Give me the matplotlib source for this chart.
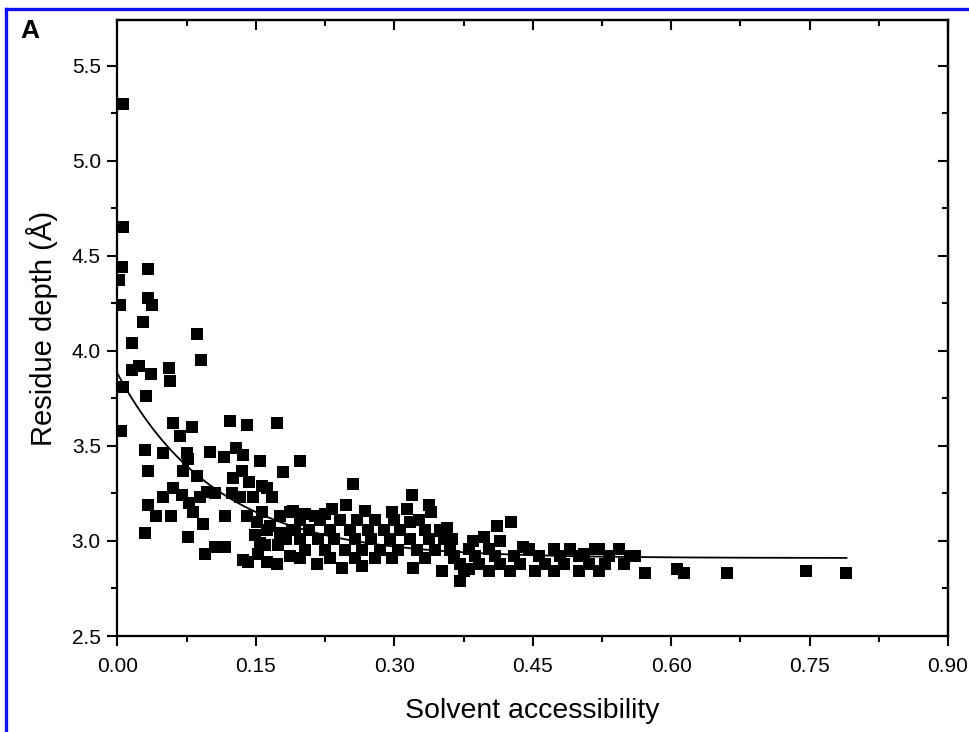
import matplotlib
matplotlib.use("Agg")
import numpy as np
import matplotlib.pyplot as plt
from matplotlib.lines import Line2D
from matplotlib.ticker import MultipleLocator

plt.rcParams["font.family"] = ["Liberation Sans", "DejaVu Sans"]

# solvent accessibility (x) and residue depth in angstrom (y)
# sparse points on the left
acc_left = [0.006, 0.006, 0.005, 0.033, 0.002, 0.033, 0.037, 0.003, 0.028, 0.086,
            0.016, 0.090, 0.016, 0.023, 0.036, 0.056, 0.057, 0.006, 0.031, 0.004,
            0.060, 0.081, 0.122, 0.140, 0.173, 0.068, 0.030, 0.049, 0.075, 0.100,
            0.115, 0.128, 0.136, 0.154, 0.198, 0.033, 0.071, 0.076, 0.086, 0.125,
            0.135, 0.179, 0.143, 0.157, 0.049, 0.060, 0.070, 0.089, 0.097, 0.106,
            0.124, 0.133, 0.147, 0.162, 0.167, 0.033, 0.077, 0.082, 0.042, 0.058,
            0.093, 0.117, 0.140, 0.151, 0.157, 0.162, 0.176, 0.176, 0.187, 0.189,
            0.030, 0.076, 0.154, 0.174, 0.183, 0.095, 0.106, 0.117, 0.136, 0.141,
            0.162, 0.173, 0.187]
depth_left = [5.30, 4.65, 4.44, 4.43, 4.37, 4.28, 4.24, 4.24, 4.15, 4.09,
              4.04, 3.95, 3.90, 3.92, 3.88, 3.91, 3.84, 3.81, 3.76, 3.58,
              3.62, 3.60, 3.63, 3.61, 3.62, 3.55, 3.48, 3.46, 3.46, 3.47,
              3.44, 3.49, 3.45, 3.42, 3.42, 3.37, 3.37, 3.43, 3.34, 3.33,
              3.37, 3.36, 3.31, 3.29, 3.23, 3.28, 3.24, 3.23, 3.26, 3.25,
              3.25, 3.23, 3.23, 3.28, 3.23, 3.19, 3.20, 3.15, 3.13, 3.13,
              3.09, 3.13, 3.13, 3.10, 3.15, 3.06, 3.13, 3.04, 3.15, 3.06,
              3.04, 3.02, 2.99, 2.98, 3.01, 2.93, 2.97, 2.97, 2.90, 2.89,
              2.89, 2.88, 2.92]

# middle, 0.15 - 0.36
acc_mid = [0.255, 0.319, 0.338, 0.340, 0.297, 0.314, 0.317, 0.357, 0.351, 0.248,
           0.232, 0.268, 0.190, 0.214, 0.216, 0.243, 0.265, 0.320, 0.352, 0.371,
           0.381,
           0.198, 0.219, 0.241, 0.260, 0.279, 0.300, 0.327,
           0.192, 0.208, 0.230, 0.252, 0.271, 0.289, 0.306, 0.333, 0.349,
           0.198, 0.217, 0.235, 0.257, 0.275, 0.295, 0.317, 0.338, 0.354,
           0.203, 0.225, 0.246, 0.265, 0.284, 0.304, 0.325, 0.344, 0.360,
           0.198, 0.230, 0.257, 0.279, 0.297, 0.333, 0.365,
           0.203, 0.225, 0.165, 0.149, 0.160, 0.152]
depth_mid = [3.30, 3.24, 3.19, 3.15, 3.15, 3.17, 3.10, 3.07, 3.05, 3.19,
             3.17, 3.16, 3.16, 3.13, 2.88, 2.86, 2.87, 2.86, 2.84, 2.79,
             2.85,
             3.11, 3.11, 3.11, 3.11, 3.11, 3.11, 3.11,
             3.06, 3.06, 3.06, 3.06, 3.06, 3.06, 3.06, 3.06, 3.06,
             3.01, 3.01, 3.01, 3.01, 3.01, 3.01, 3.01, 3.01, 3.01,
             2.95, 2.95, 2.95, 2.95, 2.95, 2.95, 2.95, 2.95, 2.95,
             2.91, 2.91, 2.91, 2.91, 2.91, 2.91, 2.91,
             3.14, 3.14, 3.08, 3.03, 2.98, 2.93]

# right, beyond 0.36
acc_right = [0.411, 0.426, 0.397, 0.415, 0.439, 0.506, 0.517, 0.561, 0.572, 0.606,
             0.614, 0.661, 0.746, 0.790, 0.362, 0.385,
             0.381, 0.403, 0.446, 0.473, 0.490, 0.522, 0.544,
             0.365, 0.387, 0.409, 0.430, 0.457, 0.479, 0.500, 0.533, 0.555,
             0.371, 0.392, 0.414, 0.436, 0.463, 0.484, 0.511, 0.528, 0.549,
             0.376, 0.403, 0.425, 0.452, 0.473, 0.500, 0.522]
depth_right = [3.08, 3.10, 3.02, 3.00, 2.97, 2.93, 2.96, 2.92, 2.83, 2.85,
               2.83, 2.83, 2.84, 2.83, 3.01, 3.00,
               2.96, 2.96, 2.96, 2.96, 2.96, 2.96, 2.96,
               2.92, 2.92, 2.92, 2.92, 2.92, 2.92, 2.92, 2.92, 2.92,
               2.88, 2.88, 2.88, 2.88, 2.88, 2.88, 2.88, 2.88, 2.88,
               2.84, 2.84, 2.84, 2.84, 2.84, 2.84, 2.84]

# exponential decay fit shown in the figure: y = Y0 + A1*exp(-x/T1)
Y0, A1, T1 = 2.91, 0.97, 0.108

x = np.array(acc_left + acc_mid + acc_right)
y = np.array(depth_left + depth_mid + depth_right)
xf = np.linspace(0, x.max(), 300)
yf = Y0 + A1 * np.exp(-xf / T1)

fig = plt.figure(figsize=(9.7, 7.32), dpi=100)
ax = fig.add_axes([117.5 / 970, 1 - 636 / 732, (948 - 117.5) / 970, (636 - 20) / 732])

ax.plot(x, y, "s", color="black", ms=9.2, mec="black", mew=0)
ax.plot(xf, yf, color="black", lw=1.3)

ax.set_xlim(0, 0.9)
ax.set_ylim(2.5, 5.74)
ax.xaxis.set_major_locator(MultipleLocator(0.15))
ax.xaxis.set_minor_locator(MultipleLocator(0.075))
ax.yaxis.set_major_locator(MultipleLocator(0.5))
ax.yaxis.set_minor_locator(MultipleLocator(0.25))
ax.xaxis.set_major_formatter(lambda v, p: f"{v:.2f}")
ax.yaxis.set_major_formatter(lambda v, p: f"{v:.1f}")
ax.tick_params(which="major", direction="out", length=7, width=1.5, labelsize=15)
ax.tick_params(axis="x", which="major", pad=8)
ax.tick_params(axis="y", which="major", pad=5)
ax.tick_params(which="minor", direction="out", length=4.5, width=1.5)
for s in ax.spines.values():
    s.set_linewidth(1.6)

# inward ticks on top and right
top = ax.secondary_xaxis("top")
right = ax.secondary_yaxis("right")
for sec in (top, right):
    sec.tick_params(which="major", direction="in", length=7, width=1.5)
    sec.tick_params(which="minor", direction="in", length=4.5, width=1.5)
    sec.spines[:].set_linewidth(1.6)
top.xaxis.set_major_locator(MultipleLocator(0.15))
top.xaxis.set_minor_locator(MultipleLocator(0.075))
top.set_xticklabels([])
right.yaxis.set_major_locator(MultipleLocator(0.5))
right.yaxis.set_minor_locator(MultipleLocator(0.25))
right.set_yticklabels([])

ax.set_xlabel("Solvent accessibility", fontsize=20.5, labelpad=16)
ax.set_ylabel("Residue depth (Å)", fontsize=21, labelpad=10)

fig.text(20 / 970, 1 - 31 / 732, "A", fontsize=19, fontweight="bold", va="center", ha="left")

# blue frame, cut off at right and bottom
fig.add_artist(Line2D([6 / 970, 6 / 970], [0, 1 - 9 / 732], transform=fig.transFigure,
                      color="#1010ff", lw=2.4))
fig.add_artist(Line2D([6 / 970, 1], [1 - 9 / 732, 1 - 9 / 732], transform=fig.transFigure,
                      color="#1010ff", lw=2.4))

fig.savefig("out.png", dpi=100)
